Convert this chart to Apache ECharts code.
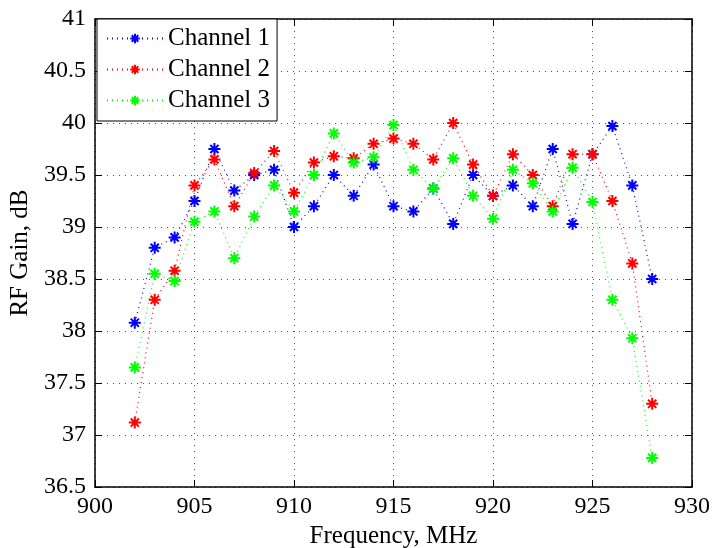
<!DOCTYPE html>
<html>
<head>
<meta charset="utf-8">
<script src="https://cdn.jsdelivr.net/npm/echarts@6/dist/echarts.min.js"></script>
<style>
  html, body { margin: 0; padding: 0; background: #fff; }
  #chart { width: 713px; height: 548px; }
</style>
</head>
<body>
<div id="chart"></div>
<script>
// frequencies, MHz
const freqs = [902, 903, 904, 905, 906, 907, 908, 909, 910, 911, 912, 913, 914, 915,
  916, 917, 918, 919, 920, 921, 922, 923, 924, 925, 926, 927, 928]
const channel1 = [38.08, 38.8, 38.9, 39.25, 39.75, 39.35, 39.5, 39.55, 39.0, 39.2, 39.5, 39.3, 39.6, 39.2,
  39.15, 39.37, 39.03, 39.5, 39.3, 39.4, 39.2, 39.75, 39.03, 39.7, 39.97, 39.4, 38.5]
const channel2 = [37.12, 38.3, 38.58, 39.4, 39.65, 39.2, 39.52, 39.73, 39.33, 39.62, 39.68, 39.66, 39.8, 39.85,
  39.8, 39.65, 40.0, 39.6, 39.3, 39.7, 39.5, 39.2, 39.7, 39.7, 39.25, 38.65, 37.3]
const channel3 = [37.65, 38.55, 38.48, 39.05, 39.15, 38.7, 39.1, 39.4, 39.15, 39.5, 39.9, 39.62, 39.67, 39.98,
  39.55, 39.37, 39.66, 39.3, 39.08, 39.55, 39.42, 39.15, 39.57, 39.24, 38.3, 37.93, 36.78]
const seriesNames = ['Channel 1', 'Channel 2', 'Channel 3']
const seriesColors = ['#0000ff', '#ff0000', '#00ff00']

const font = 'Liberation Serif'
const star = 'path://M5,0L5,10M0,5L10,5M1.6,1.6L8.4,8.4M8.4,1.6L1.6,8.4'

function makeSeries (name, color, vals) {
  return {
    name: name,
    type: 'line',
    xAxisIndex: 0,
    yAxisIndex: 0,
    symbol: star,
    symbolSize: 12,
    showAllSymbol: true,
    lineStyle: { color: color, width: 1.2, type: [1, 4] },
    itemStyle: { color: 'rgba(0,0,0,0)', borderColor: color, borderWidth: 2 },
    emphasis: { disabled: true },
    data: freqs.map((f, i) => [f, vals[i]])
  }
}

const chart = echarts.init(document.getElementById('chart'))
const gridLine = { show: true, lineStyle: { color: '#555', width: 1, type: [1, 5] } }
chart.setOption({
  animation: false,
  backgroundColor: '#fff',
  textStyle: { fontFamily: font },
  grid: { left: 95, right: 21, top: 19, bottom: 61, containLabel: false, outerBoundsMode: 'none' },
  legend: {
    left: 97,
    top: 19,
    orient: 'vertical',
    data: seriesNames,
    itemWidth: 56,
    itemHeight: 12,
    itemGap: 6,
    padding: [7, 7, 8, 9],
    backgroundColor: '#fff',
    borderColor: '#000',
    borderWidth: 1,
    textStyle: { fontFamily: font, fontSize: 25, color: '#000' }
  },
  xAxis: [{
    type: 'value',
    min: 900,
    max: 930,
    interval: 5,
    name: 'Frequency, MHz',
    nameLocation: 'middle',
    nameGap: 36,
    nameTextStyle: { fontFamily: font, fontSize: 25, color: '#000' },
    axisLine: { lineStyle: { color: '#000', width: 1.5 } },
    axisTick: { inside: true, length: 7, lineStyle: { color: '#000' } },
    axisLabel: { fontFamily: font, fontSize: 24, color: '#000', margin: 8 },
    splitLine: gridLine
  }, {
    type: 'value',
    position: 'top',
    min: 900,
    max: 930,
    interval: 5,
    axisLine: { show: true, onZero: false, lineStyle: { color: '#000', width: 1.5 } },
    axisTick: { inside: true, length: 7, lineStyle: { color: '#000' } },
    axisLabel: { show: false },
    splitLine: { show: false }
  }],
  yAxis: [{
    type: 'value',
    min: 36.5,
    max: 41,
    interval: 0.5,
    name: 'RF Gain, dB',
    nameLocation: 'middle',
    nameGap: 61,
    nameTextStyle: { fontFamily: font, fontSize: 25, color: '#000' },
    axisLine: { show: true, lineStyle: { color: '#000', width: 1.5 } },
    axisTick: { show: true, inside: true, length: 7, lineStyle: { color: '#000' } },
    axisLabel: { fontFamily: font, fontSize: 24, color: '#000', margin: 9 },
    splitLine: gridLine
  }, {
    type: 'value',
    position: 'right',
    min: 36.5,
    max: 41,
    interval: 0.5,
    axisLine: { show: true, onZero: false, lineStyle: { color: '#000', width: 1.5 } },
    axisTick: { show: true, inside: true, length: 7, lineStyle: { color: '#000' } },
    axisLabel: { show: false },
    splitLine: { show: false }
  }],
  series: [
    makeSeries(seriesNames[0], seriesColors[0], channel1),
    makeSeries(seriesNames[1], seriesColors[1], channel2),
    makeSeries(seriesNames[2], seriesColors[2], channel3)
  ]
})
window.addEventListener('resize', function () {
  chart.resize()
})
</script>
</body>
</html>
